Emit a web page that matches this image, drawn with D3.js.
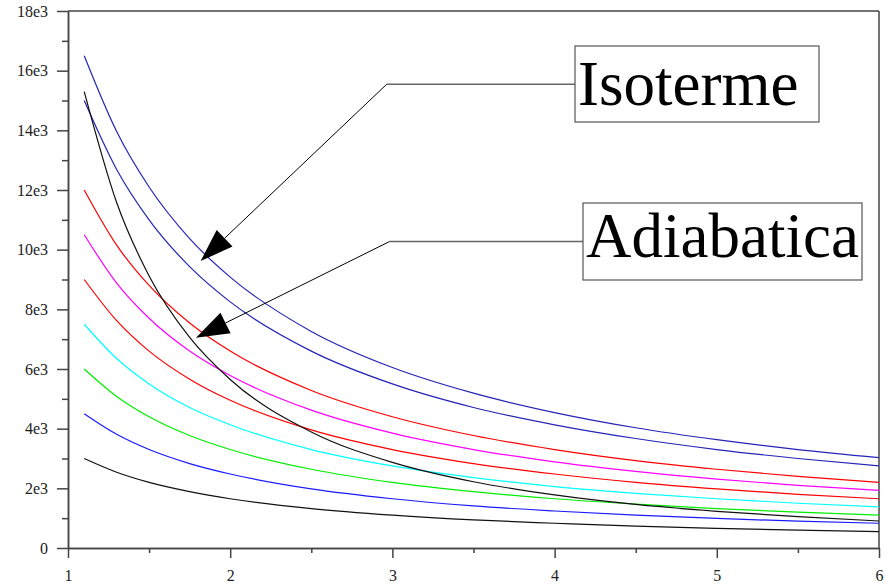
<!DOCTYPE html>
<html>
<head>
<meta charset="utf-8">
<script src="https://cdn.jsdelivr.net/npm/d3@7"></script>
<style>
  body { margin: 0; background: #fff; }
  svg { display: block; }
  .tick text { font-family: "Liberation Serif", serif; font-size: 16px; fill: #222; }
</style>
</head>
<body>
<svg id="chart" width="886" height="586"></svg>
<script>
// volumes where the curves were read
var volumes = [1.1, 1.3, 1.5, 1.75, 2, 2.5, 3, 3.5, 4, 4.5, 5, 5.5, 6]

// isotherms (top to bottom)
var iso1 = [16500, 13960, 12100, 10370, 9080, 7260, 6050, 5190, 4540, 4030, 3630, 3300, 3030]
var iso2 = [15000, 12690, 11000, 9430, 8250, 6600, 5500, 4710, 4130, 3670, 3300, 3000, 2750]
var iso3 = [12000, 10150, 8800, 7540, 6600, 5280, 4400, 3770, 3300, 2930, 2640, 2400, 2200]
var iso4 = [10500, 8880, 7700, 6600, 5780, 4620, 3850, 3300, 2890, 2570, 2310, 2100, 1930]
var iso5 = [9000, 7620, 6600, 5660, 4950, 3960, 3300, 2830, 2480, 2200, 1980, 1800, 1650]
var iso6 = [7500, 6350, 5500, 4710, 4130, 3300, 2750, 2360, 2060, 1830, 1650, 1500, 1380]
var iso7 = [6000, 5080, 4400, 3770, 3300, 2640, 2200, 1890, 1650, 1470, 1320, 1200, 1100]
var iso8 = [4500, 3810, 3300, 2830, 2480, 1980, 1650, 1410, 1240, 1100, 990, 900, 830]
var iso9 = [3000, 2540, 2200, 1890, 1650, 1320, 1100, 940, 830, 730, 660, 600, 550]
// adiabatic curve
var adiabat = [15300, 11580, 9120, 7060, 5650, 3890, 2870, 2220, 1780, 1460, 1230, 1050, 905]

var isoSeries = [iso1, iso2, iso3, iso4, iso5, iso6, iso7, iso8, iso9]
var isoColors = ['#2424b8', '#2424b8', '#ff0000', '#ff00ff', '#ff0000', '#00ffff', '#00ee00', '#1a1aff', '#111111']

var xTicks = [1, 2, 3, 4, 5, 6]
var yTicks = [0, 2000, 4000, 6000, 8000, 10000, 12000, 14000, 16000, 18000]

// annotations: label, arrow tip [V, P], elbow [V, P]
var annLabels = ['Isoterme', 'Adiabatica']
var annTips = [[1.818, 9620], [1.789, 7050]]
var annElbows = [[2.965, 15545], [2.981, 10270]]

var svg = d3.select('#chart')
var x = d3.scaleLinear().domain([1, 6]).range([68, 879])
var y = d3.scaleLinear().domain([0, 18000]).range([548, 11])
var axisColor = '#444'

// frame top/right
svg.append('line').attr('x1', x(1)).attr('x2', x(6)).attr('y1', y(18000)).attr('y2', y(18000))
    .style('stroke', axisColor).style('stroke-width', 1.5)
svg.append('line').attr('x1', x(6)).attr('x2', x(6)).attr('y1', y(0)).attr('y2', y(18000))
    .style('stroke', axisColor).style('stroke-width', 1.5)

// minor ticks
svg.append('g').attr('class', 'minor').attr('transform', 'translate(0,' + y(0) + ')')
    .call(d3.axisBottom(x).tickValues(d3.range(1.5, 6, 1)).tickSize(5).tickSizeOuter(0).tickFormat(''))
svg.append('g').attr('class', 'minor').attr('transform', 'translate(' + x(1) + ',0)')
    .call(d3.axisLeft(y).tickValues(d3.range(1000, 18000, 2000)).tickSize(6).tickSizeOuter(0).tickFormat(''))

// major axes
svg.append('g').attr('transform', 'translate(0,' + y(0) + ')')
    .call(d3.axisBottom(x).tickValues(xTicks).tickSize(10).tickSizeOuter(0).tickPadding(12)
        .tickFormat(d3.format('d')))
svg.append('g').attr('transform', 'translate(' + x(1) + ',0)')
    .call(d3.axisLeft(y).tickValues(yTicks).tickSize(11).tickSizeOuter(0).tickPadding(9)
        .tickFormat(function (d) { return d === 0 ? '0' : (d / 1000) + 'e3' }))

svg.selectAll('.domain, .tick line').style('stroke', axisColor).style('stroke-width', 1.5)

var line = d3.line()
    .x(function (d, i) { return x(volumes[i]) })
    .y(function (d) { return y(d) })
    .curve(d3.curveMonotoneX)

svg.selectAll('.iso')
    .data(isoSeries)
    .enter()
    .append('path')
    .attr('class', 'iso')
    .attr('d', line)
    .style('fill', 'none')
    .style('stroke', function (d, i) { return isoColors[i] })
    .style('stroke-width', 1.2)

svg.append('path')
    .datum(adiabat)
    .attr('d', line)
    .style('fill', 'none')
    .style('stroke', '#111')
    .style('stroke-width', 1.2)

// annotation boxes (pixel layout)
var boxes = [
    { x: 575, y: 46, w: 244, h: 76, tx: 578, ty: 105 },
    { x: 583, y: 203, w: 279, h: 77, tx: 586, ty: 257 }
]

annLabels.forEach(function (label, i) {
    var b = boxes[i]
    var tip = [x(annTips[i][0]), y(annTips[i][1])]
    var elbow = [x(annElbows[i][0]), y(annElbows[i][1])]
    var midY = elbow[1]
    svg.append('line')
        .attr('x1', b.x).attr('x2', elbow[0]).attr('y1', midY).attr('y2', midY)
        .style('stroke', '#666').style('stroke-width', 1.5)
    // arrowhead geometry
    var dx = tip[0] - elbow[0], dy = tip[1] - elbow[1]
    var len = Math.sqrt(dx * dx + dy * dy)
    var ux = dx / len, uy = dy / len
    var headLen = 33, headW = 11.5
    var bx = tip[0] - ux * headLen, by = tip[1] - uy * headLen
    svg.append('line')
        .attr('x1', elbow[0]).attr('y1', elbow[1]).attr('x2', bx).attr('y2', by)
        .style('stroke', '#000').style('stroke-width', 1)
    svg.append('path')
        .attr('d', 'M' + tip[0] + ',' + tip[1] +
            'L' + (bx - uy * headW) + ',' + (by + ux * headW) +
            'L' + (bx + uy * headW) + ',' + (by - ux * headW) + 'Z')
        .style('fill', '#000')
    svg.append('rect')
        .attr('x', b.x).attr('y', b.y).attr('width', b.w).attr('height', b.h)
        .style('fill', '#fff').style('stroke', '#555').style('stroke-width', 1.2)
    svg.append('text')
        .attr('x', b.tx).attr('y', b.ty)
        .style('font-family', '"Liberation Serif", "Times New Roman", serif')
        .style('font-size', '63px')
        .style('fill', '#000')
        .text(label)
})
</script>
</body>
</html>
